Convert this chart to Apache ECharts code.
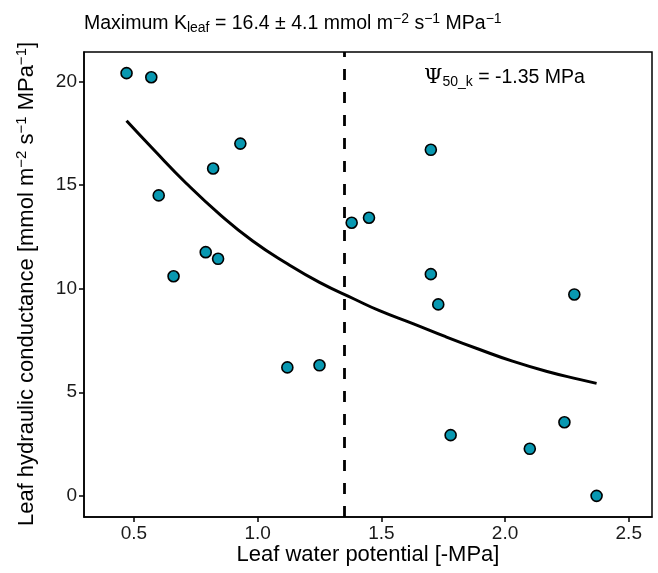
<!DOCTYPE html>
<html>
<head>
<meta charset="utf-8">
<script src="https://cdn.jsdelivr.net/npm/echarts@6/dist/echarts.min.js"></script>
<style>html,body{margin:0;padding:0;background:#fff;}#c{width:658px;height:573px;}</style>
</head>
<body>
<div id="c"></div>
<script>
// Observed points: leaf water potential [-MPa] and Kleaf
var pointX = [0.47, 0.57, 0.60, 0.66, 0.79, 0.82, 0.84, 0.93, 1.12, 1.25, 1.38, 1.45, 1.70, 1.70, 1.73, 1.78, 2.10, 2.24, 2.28, 2.37];
var pointY = [20.4, 20.2, 14.5, 10.6, 11.76, 15.8, 11.44, 17.0, 6.2, 6.3, 13.18, 13.42, 16.7, 10.7, 9.24, 2.93, 2.27, 3.55, 9.72, 0.0];
// Fitted curve
var curveX = [0.47, 0.58, 0.71, 0.85, 0.98, 1.12, 1.25, 1.39, 1.49, 1.63, 1.76, 1.90, 2.03, 2.17, 2.30, 2.37];
var curveY = [18.1, 16.7, 15.1, 13.55, 12.3, 11.2, 10.3, 9.5, 8.95, 8.3, 7.68, 7.05, 6.5, 6.0, 5.62, 5.43];
var psi50 = 1.35;
var xTicks = [0.5, 1.0, 1.5, 2.0, 2.5];
var yTicks = [0, 5, 10, 15, 20];

var chart = echarts.init(document.getElementById('c'), null, {renderer: 'canvas'});
var FONT = 'Liberation Sans, Arial, sans-serif';
var pts = pointX.map(function (x, i) { return [x, pointY[i]]; });
var crv = curveX.map(function (x, i) { return [x, curveY[i]]; });

var supSub = {
  n: {fontSize: 19.5, fontFamily: FONT, color: '#000'},
  sub: {fontSize: 14, fontFamily: FONT, color: '#000', padding: [9, 0, 0, 0]},
  sup: {fontSize: 14, fontFamily: FONT, color: '#000', padding: [0, 0, 9, 0]},
  psi: {fontSize: 21, fontFamily: 'DejaVu Serif, serif', color: '#000'},
  an: {fontSize: 22, fontFamily: FONT, color: '#000'},
  asup: {fontSize: 15, fontFamily: FONT, color: '#000', padding: [0, 0, 10, 0]}
};

chart.setOption({
  animation: false,
  backgroundColor: '#fff',
  grid: {left: 84, right: 6, top: 52, bottom: 56, show: true, borderColor: '#000', borderWidth: 1.5, backgroundColor: 'transparent'},
  xAxis: {
    type: 'value', min: 0.298, max: 2.594,
    splitLine: {show: false},
    axisLine: {show: true, onZero: false, lineStyle: {color: '#000', width: 1.5}},
    axisTick: {show: true, length: 5, customValues: xTicks, lineStyle: {color: '#000', width: 1.5}},
    axisLabel: {customValues: xTicks, margin: 7, fontSize: 19, fontFamily: FONT, color: '#1a1a1a',
      formatter: function (v) { return v.toFixed(1); }}
  },
  yAxis: {
    type: 'value', min: -1.02, max: 21.42,
    splitLine: {show: false},
    axisLine: {show: true, onZero: false, lineStyle: {color: '#000', width: 1.5}},
    axisTick: {show: true, length: 5, customValues: yTicks, lineStyle: {color: '#000', width: 1.5}},
    axisLabel: {customValues: yTicks, margin: 7, fontSize: 19, fontFamily: FONT, color: '#1a1a1a',
      formatter: function (v) { return String(Math.round(v)); }}
  },
  series: [
    {
      type: 'line', data: crv, smooth: 0.5, showSymbol: false, silent: true,
      lineStyle: {color: '#000', width: 3}, z: 2,
      markLine: {
        silent: true, symbol: 'none', label: {show: false},
        lineStyle: {color: '#000', width: 2.8, type: [11, 12]},
        data: [{xAxis: psi50}]
      }
    },
    {
      type: 'scatter', data: pts, symbol: 'circle', symbolSize: 11, z: 3,
      itemStyle: {color: '#0898b1', opacity: 1, borderColor: '#000', borderWidth: 1.6}
    }
  ],
  graphic: [
    {
      type: 'text', left: 84, top: 12,
      style: {
        text: '{n|Maximum K}{sub|leaf}{n| = 16.4 ± 4.1 mmol m}{sup|−2}{n| s}{sup|−1}{n| MPa}{sup|−1}',
        rich: supSub
      }
    },
    {
      type: 'text', x: 424, y: 78,
      style: {
        text: '{psi|Ψ}{sub|50_k}{n| = -1.35 MPa}',
        rich: supSub, verticalAlign: 'middle'
      }
    },
    {
      type: 'text', x: 368, y: 555,
      style: {text: 'Leaf water potential [-MPa]', fontSize: 22, fontFamily: FONT, fill: '#000', align: 'center', verticalAlign: 'middle'}
    },
    {
      type: 'text', x: 27, y: 284, rotation: Math.PI / 2,
      style: {
        text: '{an|Leaf hydraulic conductance [mmol m}{asup|−2}{an| s}{asup|−1}{an| MPa}{asup|−1}{an|]}',
        rich: supSub, align: 'center', verticalAlign: 'middle'
      }
    }
  ]
});
</script>
</body>
</html>
